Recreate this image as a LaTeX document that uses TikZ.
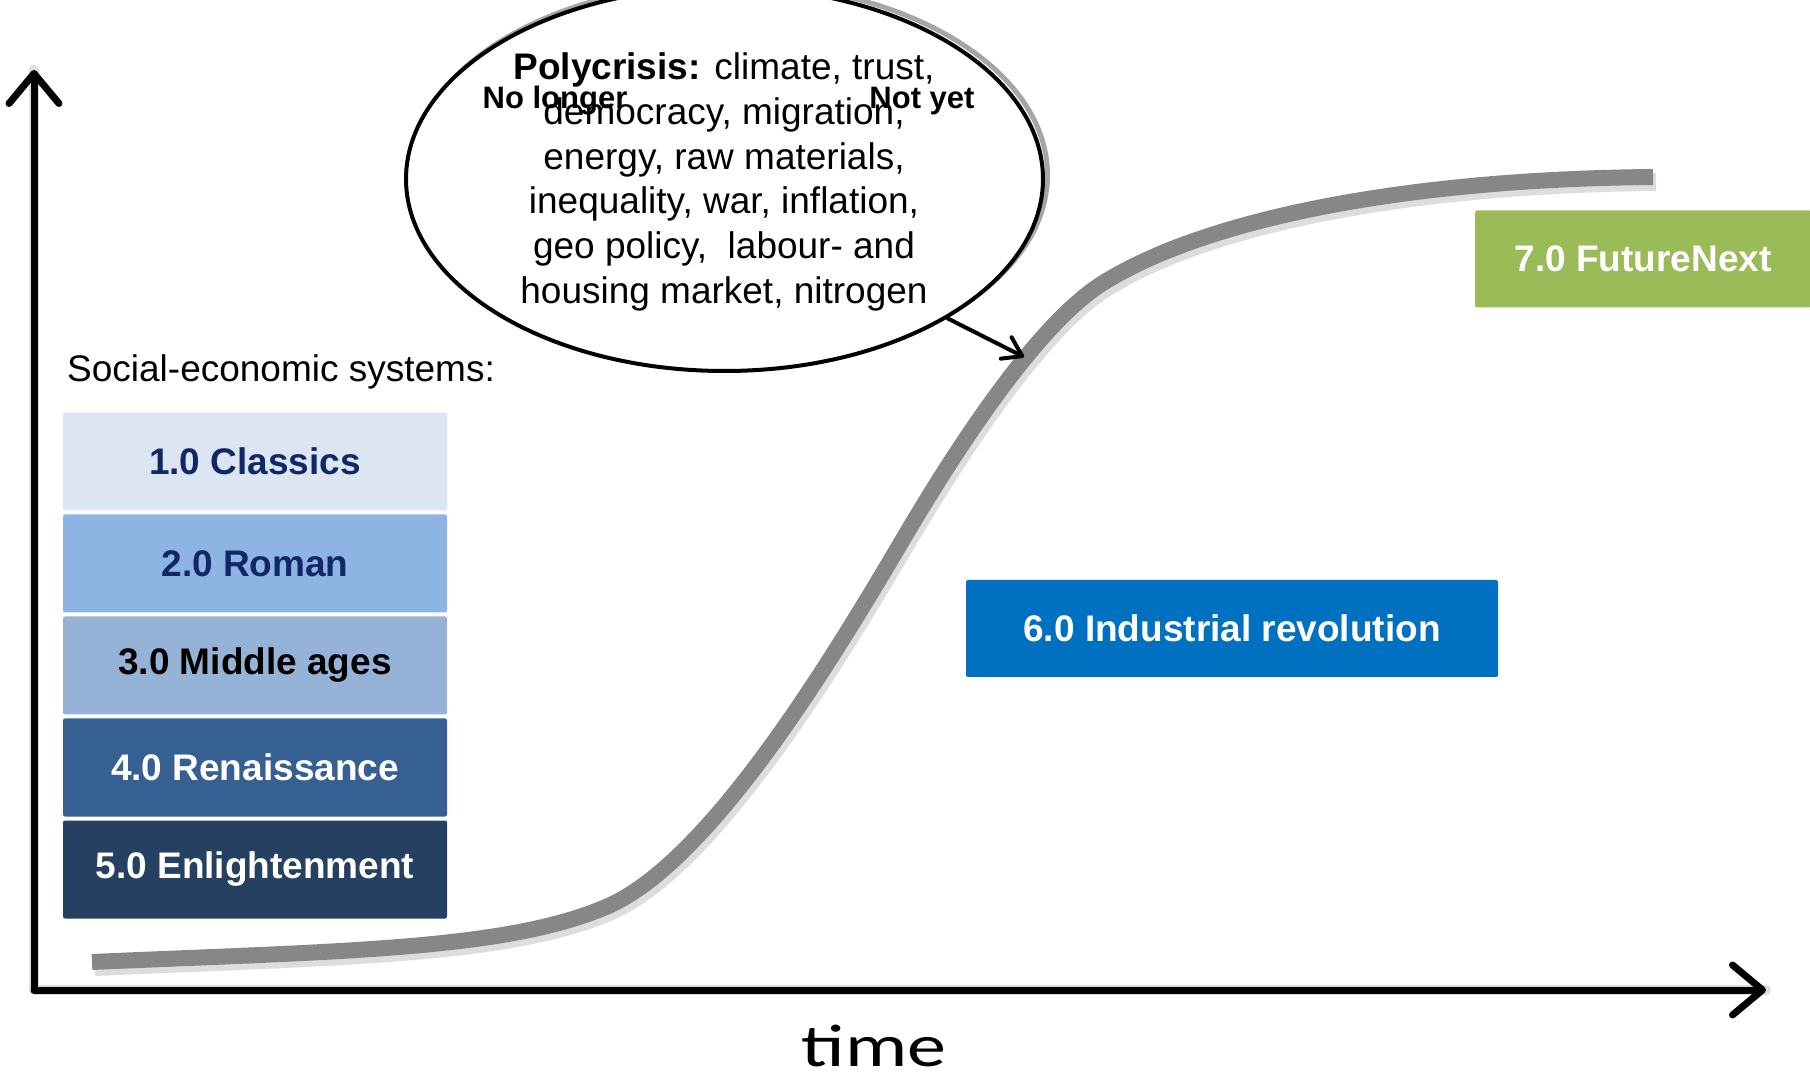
\documentclass[tikz,border=0pt]{standalone}
\usepackage{fontspec}
\setmainfont{Liberation Sans}
\newfontfamily\timefont{Carlito}
\usetikzlibrary{arrows.meta,shapes.geometric}
\definecolor{navytext}{HTML}{112766}
\definecolor{boxone}{HTML}{DCE6F2}
\definecolor{boxtwo}{HTML}{8EB4E3}
\definecolor{boxthree}{HTML}{95B3D7}
\definecolor{boxfour}{HTML}{376092}
\definecolor{boxfive}{HTML}{264061}
\definecolor{industry}{HTML}{0070C0}
\definecolor{future}{HTML}{9BBB59}
\definecolor{curvegray}{HTML}{878787}
\begin{document}
\begin{tikzpicture}[x=1pt,y=1pt, line join=round, line cap=round,
	axis/.style={line width=7pt, -{Straight Barb[length=30pt,width=50pt,round]}},
	pointer/.style={line width=4pt, -{Straight Barb[length=18pt,width=24pt,round]}},
	scurve/.style={draw=curvegray, line width=16pt, line cap=butt},
	soft/.style={draw=black!22, opacity=0.6},
	sysbox/.style={rounded corners=2pt, minimum width=384pt, minimum height=98pt, inner sep=0pt, font=\bfseries\fontsize{37}{42}\selectfont},
	erabox/.style={rounded corners=2pt, minimum height=97pt, inner sep=0pt, text=white, font=\bfseries\fontsize{37}{42}\selectfont}]
\useasboundingbox (0,0) rectangle (1810,1080);
\def\ox{34} \def\oy{90} % origin
\def\growth{(92,118) .. controls +(2.5:250) and +(203:110) .. (606,173)
	.. controls +(23:110) and +(239.5:150) .. (902,539)
	.. controls +(59.5:100) and +(212:80) .. (1103,797)
	.. controls +(32:120) and +(180.5:250) .. (1653,903)}
\coordinate (O) at (\ox,\oy);
\coordinate (xtip) at (1766,\oy);
\coordinate (ytip) at (\ox,1010);
\coordinate (knee) at (1024,723);

% shadows
\begin{scope}[shift={(3,-5)}]
	\draw[soft, line width=10pt] (ytip) -- (O) -- (xtip);
	\draw[soft, line width=18pt, line cap=butt] \growth;
\end{scope}

\draw[axis] (O) -- (ytip);
\draw[axis] (O) -- (xtip);
\node (time) at (874,34) {\timefont\fontsize{60}{60}\selectfont\scalebox{1.3}[1]{time}};

\draw[scurve] \growth;

% bubble
\draw[black!35, line width=5pt] (729,905) ellipse [x radius=318.5, y radius=192];
\node[draw, ellipse, fill=white, line width=4pt, minimum width=637pt, minimum height=384pt, inner sep=0pt] (bubble) at (724.5,901) {};
\node[align=center, inner sep=0pt, font=\fontsize{37}{44.8}\selectfont] (crisis) at (724,898)
	{\textbf{Polycrisis:} climate, trust,\\ democracy, migration,\\ energy, raw materials,\\ inequality, war, inflation,\\ geo policy,~ labour- and\\ housing market, nitrogen};
\node[font=\bfseries\fontsize{31}{36}\selectfont, inner sep=0pt] (nolonger) at (555,979) {No longer};
\node[font=\bfseries\fontsize{31}{36}\selectfont, inner sep=0pt] (notyet) at (922,979) {Not yet};
\draw[pointer] (bubble.-32) -- (knee);

\node[anchor=west, inner sep=0pt, font=\fontsize{37}{42}\selectfont] (systems) at (67,708.5) {Social-economic systems:};
\foreach \i/\name/\fc/\tc in {1/{1.0 Classics}/boxone/navytext, 2/{2.0 Roman}/boxtwo/navytext,
	3/{3.0 Middle ages}/boxthree/black, 4/{4.0 Renaissance}/boxfour/white, 5/{5.0 Enlightenment}/boxfive/white}
	\node[sysbox, fill=\fc, text=\tc] (sys\i) at (255,{618.5-102*(\i-1)}) {\name};

\node[erabox, fill=industry, minimum width=532pt] (industrial) at (1232,451.5) {6.0 Industrial revolution};
\node[erabox, fill=future, minimum width=336pt] (futurenext) at (1643,821) {7.0 FutureNext};
\end{tikzpicture}
\end{document}
